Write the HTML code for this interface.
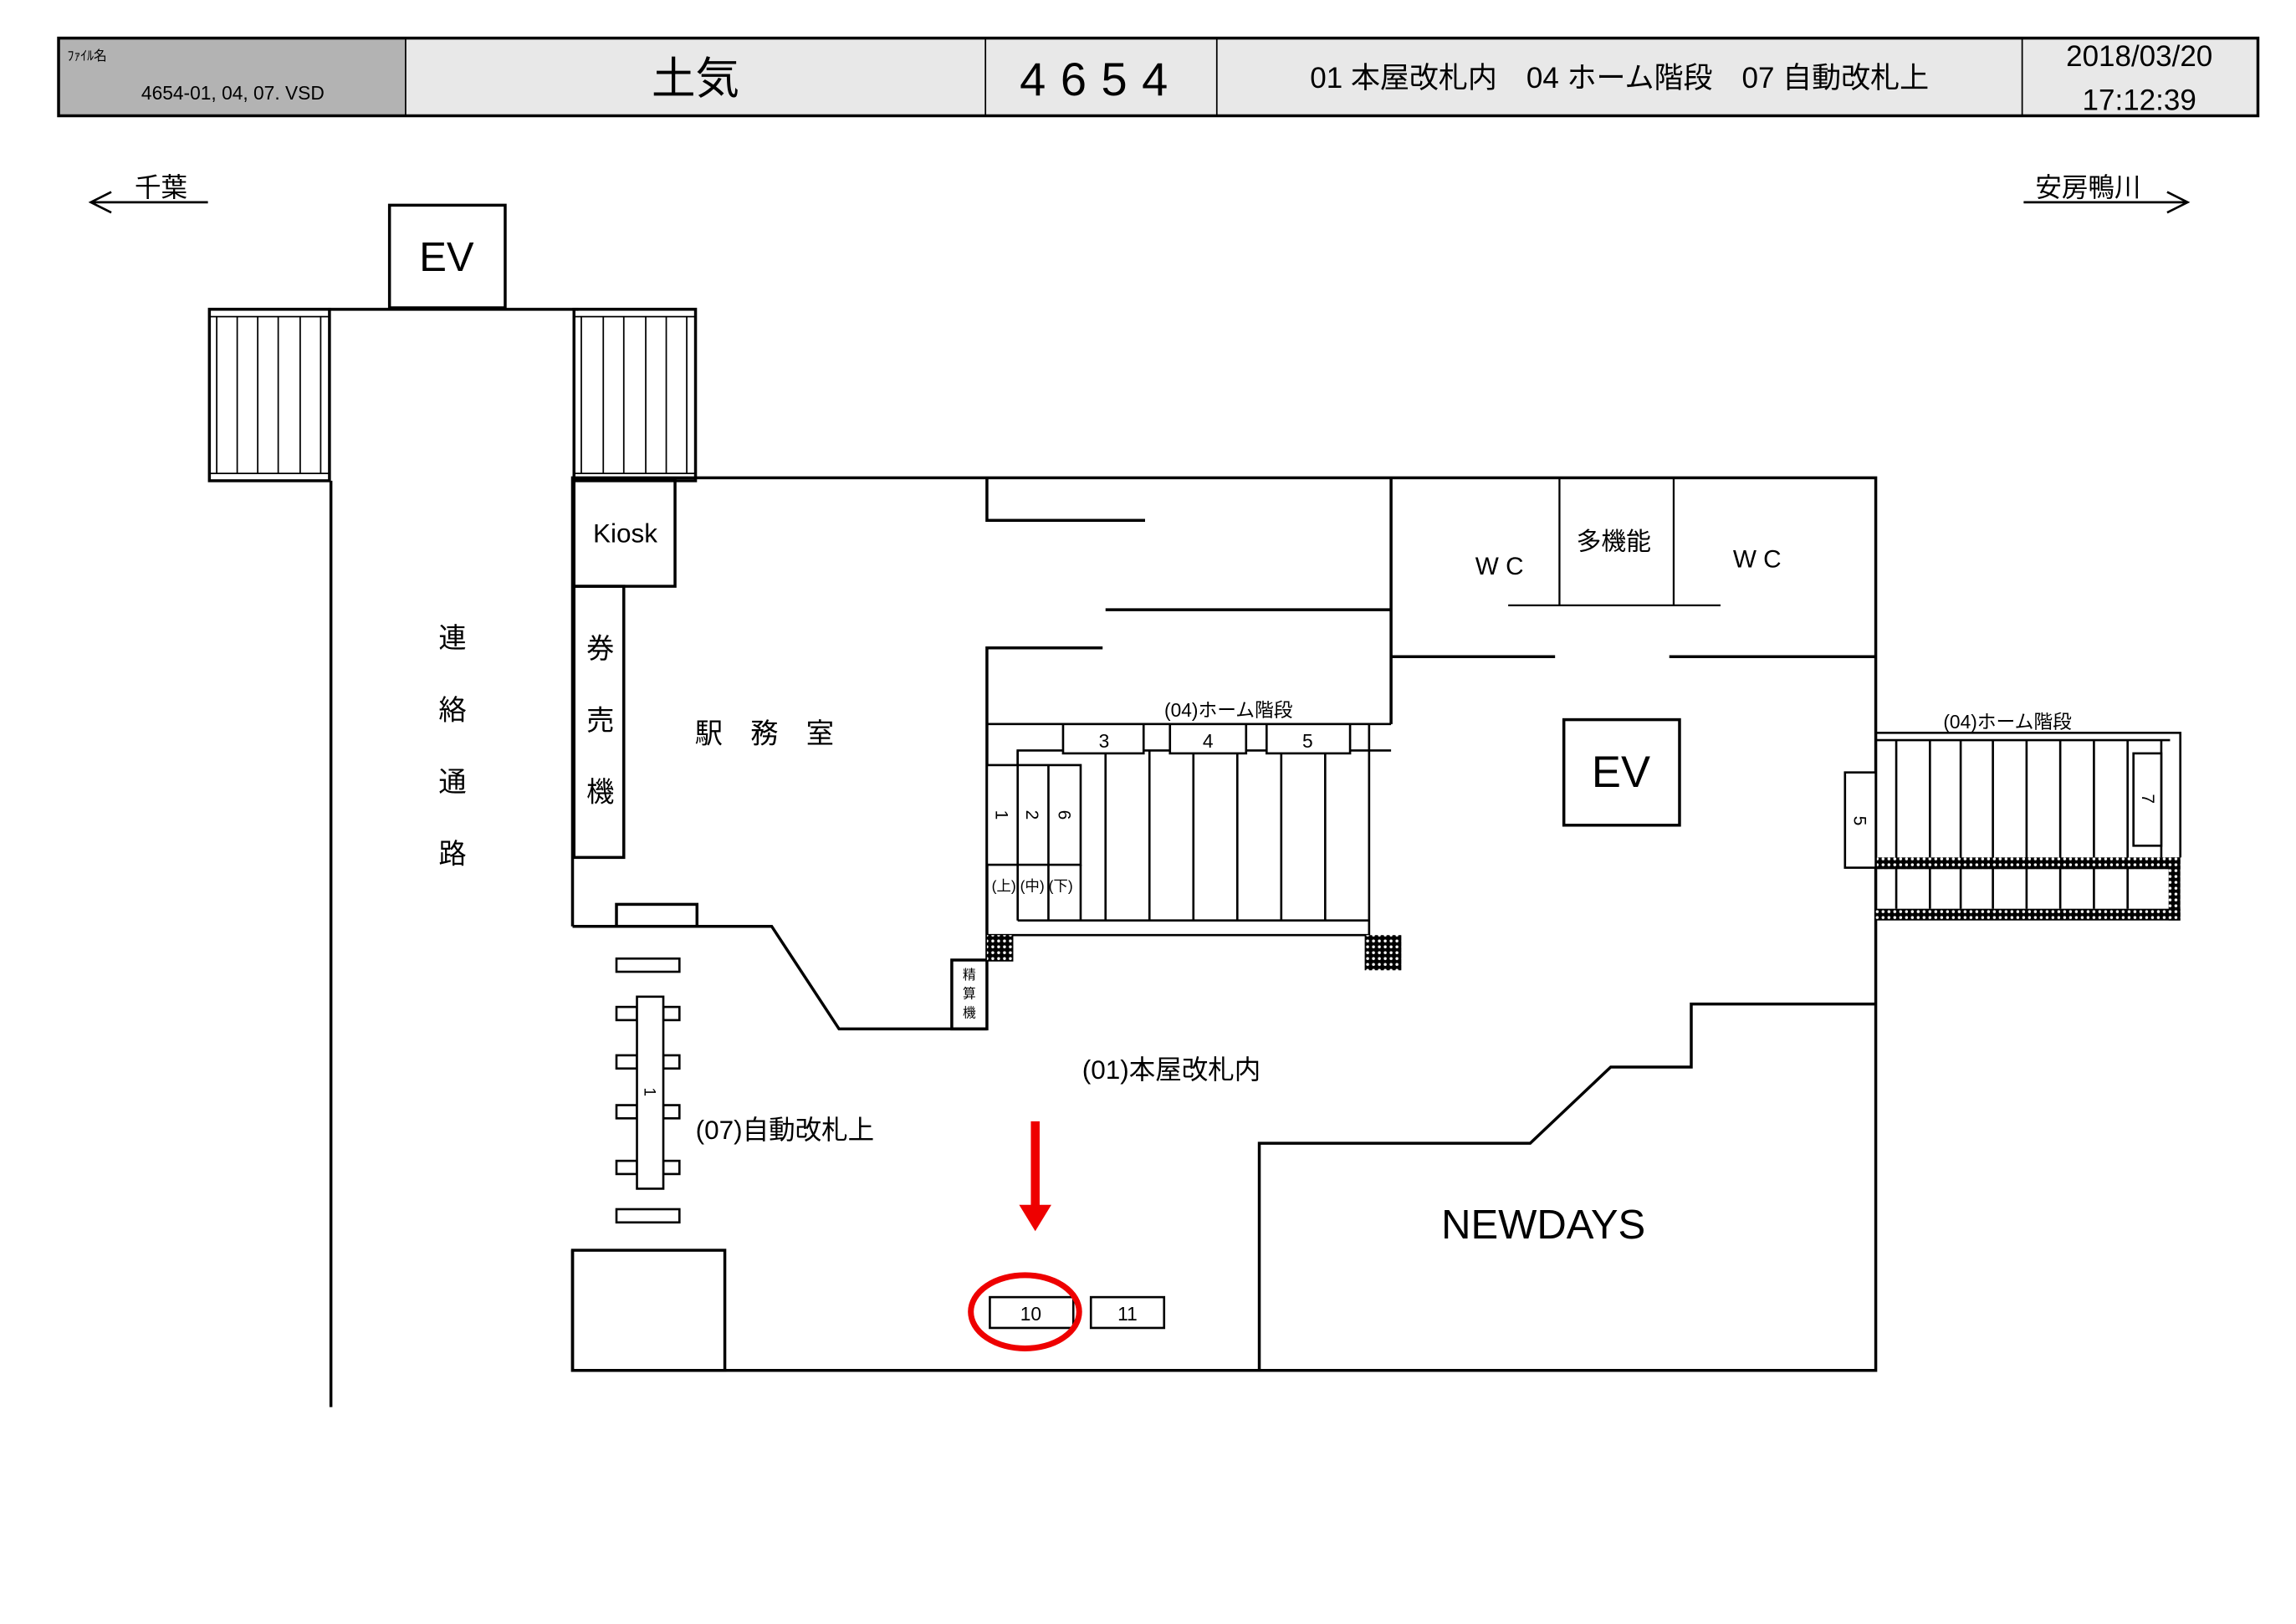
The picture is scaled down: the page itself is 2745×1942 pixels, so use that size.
<!DOCTYPE html>
<html><head><meta charset="utf-8"><style>
html,body{margin:0;padding:0;background:#fff}
svg{display:block}
text{font-family:"Liberation Sans","Noto Sans CJK JP",sans-serif;fill:#000}
</style></head><body>
<svg width="2745" height="1942" viewBox="0 0 1568 1108" preserveAspectRatio="none" xmlns="http://www.w3.org/2000/svg">
<defs>
<pattern id="dots" width="4" height="4" patternUnits="userSpaceOnUse">
<rect width="4" height="4" fill="#000"/><circle cx="2" cy="2" r="1" fill="#fff"/>
</pattern>
</defs>
<!-- header -->
<rect x="40" y="26" width="237" height="53" fill="#b3b3b3"/>
<rect x="277" y="26" width="1265" height="53" fill="#e8e8e8"/>
<g stroke="#000" fill="none">
<rect x="40" y="26" width="1502" height="53" stroke-width="2"/>
<line x1="277" y1="26" x2="277" y2="79"/><line x1="673" y1="26" x2="673" y2="79"/>
<line x1="831" y1="26" x2="831" y2="79"/><line x1="1381" y1="26" x2="1381" y2="79"/>
</g>
<text x="46" y="41" font-size="9">ﾌｧｲﾙ名</text>
<text x="159" y="68" font-size="13" text-anchor="middle">4654-01, 04, 07. VSD</text>
<text x="475" y="64" font-size="30" text-anchor="middle">土気</text>
<text x="752" y="65" font-size="32" text-anchor="middle" letter-spacing="10">4654</text>
<text x="1106" y="60" font-size="20" text-anchor="middle">01 本屋改札内　04 ホーム階段　07 自動改札上</text>
<text x="1461" y="45" font-size="20" text-anchor="middle">2018/03/20</text>
<text x="1461" y="75" font-size="20" text-anchor="middle">17:12:39</text>
<!-- direction arrows -->
<g stroke="#000" fill="none" stroke-width="1.5">
<path d="M142 138 H62 M76 131 L62 138 L76 145"/>
<path d="M1382 138 H1494 M1480 131 L1494 138 L1480 145"/>
</g>
<text x="110" y="134" font-size="18" text-anchor="middle">千葉</text>
<text x="1426" y="134" font-size="18" text-anchor="middle">安房鴨川</text>
<!-- top EV & stairs -->
<g stroke="#000" fill="none" stroke-width="2">
<rect x="266" y="140" width="79" height="70"/>
<line x1="224" y1="211" x2="395" y2="211"/>
<rect x="143" y="211" width="82" height="117"/>
<rect x="392" y="211" width="83" height="117"/>
<line x1="226" y1="328" x2="226" y2="960"/>
</g>
<g stroke="#000" stroke-width="1">
<line x1="143" y1="216" x2="225" y2="216"/><line x1="143" y1="323" x2="225" y2="323"/>
<line x1="392" y1="216" x2="475" y2="216"/><line x1="392" y1="323" x2="475" y2="323"/>
<line x1="148" y1="216" x2="148" y2="323"/><line x1="162" y1="216" x2="162" y2="323"/><line x1="176" y1="216" x2="176" y2="323"/><line x1="190" y1="216" x2="190" y2="323"/><line x1="205" y1="216" x2="205" y2="323"/><line x1="219" y1="216" x2="219" y2="323"/>
<line x1="397" y1="216" x2="397" y2="323"/><line x1="412" y1="216" x2="412" y2="323"/><line x1="426" y1="216" x2="426" y2="323"/><line x1="441" y1="216" x2="441" y2="323"/><line x1="455" y1="216" x2="455" y2="323"/><line x1="469" y1="216" x2="469" y2="323"/>
</g>
<text x="305" y="185" font-size="28" text-anchor="middle">EV</text>
<!-- main outline -->
<g stroke="#000" fill="none" stroke-width="2">
<path d="M391 632 V326 H1281 V935 H391 V853"/>
<rect x="392" y="327" width="69" height="73"/>
<rect x="392" y="400" width="34" height="185"/>
<path d="M391 632 H527 L573 702 H674"/>
<rect x="650" y="655" width="24" height="47"/>
<rect x="421" y="617" width="55" height="15"/>
<rect x="391" y="853" width="104" height="82"/>
<path d="M674 326 V355 H782"/>
<line x1="755" y1="416" x2="950" y2="416"/>
<line x1="950" y1="326" x2="950" y2="494"/>
<path d="M753 442 H674 V656"/>
<line x1="950" y1="448" x2="1062" y2="448"/>
<line x1="1140" y1="448" x2="1281" y2="448"/>
<rect x="1068" y="491" width="79" height="72"/>
<path d="M860 935 V780 H1045 L1100 728 H1155 V685 H1281"/>
</g>
<g stroke="#000" stroke-width="1.3" fill="none">
<line x1="1065" y1="326" x2="1065" y2="413"/><line x1="1143" y1="326" x2="1143" y2="413"/>
<line x1="1030" y1="413" x2="1175" y2="413"/>
</g>
<text x="427" y="370" font-size="18" text-anchor="middle">Kiosk</text>
<g font-size="19" text-anchor="middle"><text x="410" y="449">券</text><text x="410" y="498">売</text><text x="410" y="547">機</text></g>
<g font-size="19" text-anchor="middle"><text x="309" y="442">連</text><text x="309" y="491">絡</text><text x="309" y="540">通</text><text x="309" y="589">路</text></g>
<text x="522" y="507" font-size="19" text-anchor="middle">駅　務　室</text>
<g font-size="9" text-anchor="middle"><text x="662" y="668">精</text><text x="662" y="681">算</text><text x="662" y="694">機</text></g>
<text x="1024" y="392" font-size="17" text-anchor="middle">W C</text>
<text x="1102" y="375" font-size="17" text-anchor="middle">多機能</text>
<text x="1200" y="387" font-size="17" text-anchor="middle">W C</text>
<text x="1107" y="537" font-size="30" text-anchor="middle">EV</text>
<!-- center stairs -->
<g stroke="#000" fill="none" stroke-width="1.5">
<line x1="674" y1="494" x2="950" y2="494"/>
<path d="M695 522 V512 H950"/>
<line x1="695" y1="512" x2="695" y2="628"/>
<line x1="695" y1="628" x2="935" y2="628"/>
<line x1="674" y1="638" x2="935" y2="638"/>
<line x1="935" y1="494" x2="935" y2="638"/>
<line x1="716" y1="590" x2="716" y2="628"/><line x1="738" y1="590" x2="738" y2="628"/>
<line x1="755" y1="512" x2="755" y2="628"/><line x1="785" y1="512" x2="785" y2="628"/><line x1="815" y1="512" x2="815" y2="628"/><line x1="845" y1="512" x2="845" y2="628"/><line x1="875" y1="512" x2="875" y2="628"/><line x1="905" y1="512" x2="905" y2="628"/>
</g>
<g stroke="#000" fill="#fff" stroke-width="1.5">
<rect x="726" y="494" width="55" height="20"/><rect x="799" y="494" width="52" height="20"/><rect x="865" y="494" width="57" height="20"/>
<rect x="674" y="522" width="64" height="68"/>
</g>
<line x1="695" y1="522" x2="695" y2="590" stroke="#000" stroke-width="1.5"/>
<line x1="716" y1="522" x2="716" y2="590" stroke="#000" stroke-width="1.5"/>
<rect x="674" y="638" width="18" height="18" fill="url(#dots)"/>
<rect x="932" y="638" width="25" height="24" fill="url(#dots)"/>
<text x="839" y="489" font-size="13" text-anchor="middle">(04)ホーム階段</text>
<g font-size="13" text-anchor="middle"><text x="754" y="510">3</text><text x="825" y="510">4</text><text x="893" y="510">5</text></g>
<g font-size="12" text-anchor="middle">
<text transform="translate(684,556) rotate(90)" y="4">1</text>
<text transform="translate(705,556) rotate(90)" y="4">2</text>
<text transform="translate(727,556) rotate(90)" y="4">6</text>
</g>
<text x="705" y="608" font-size="10" text-anchor="middle">(上) (中) (下)</text>
<!-- right stairs -->
<g stroke="#000" fill="none" stroke-width="1.5">
<path d="M1281 500 H1489 V585"/>
<line x1="1281" y1="505" x2="1482" y2="505"/>
<line x1="1295" y1="505" x2="1295" y2="620"/><line x1="1318" y1="505" x2="1318" y2="620"/><line x1="1339" y1="505" x2="1339" y2="620"/><line x1="1361" y1="505" x2="1361" y2="620"/><line x1="1384" y1="505" x2="1384" y2="620"/><line x1="1407" y1="505" x2="1407" y2="620"/><line x1="1430" y1="505" x2="1430" y2="620"/><line x1="1453" y1="505" x2="1453" y2="620"/><line x1="1476" y1="505" x2="1476" y2="585"/>
</g>
<rect x="1281" y="585" width="208" height="8" fill="url(#dots)"/>
<rect x="1281" y="620" width="208" height="8" fill="url(#dots)"/>
<rect x="1481" y="585" width="8" height="43" fill="url(#dots)"/>
<g stroke="#000" fill="#fff" stroke-width="1.5">
<rect x="1260" y="527" width="21" height="65"/>
<rect x="1457" y="514" width="19" height="63"/>
</g>
<text x="1371" y="497" font-size="13" text-anchor="middle">(04)ホーム階段</text>
<text transform="translate(1270,560) rotate(90)" y="4" font-size="12" text-anchor="middle">5</text>
<text transform="translate(1467,545) rotate(90)" y="4" font-size="12" text-anchor="middle">7</text>
<!-- gates -->
<g stroke="#000" fill="#fff" stroke-width="1.5">
<rect x="421" y="654" width="43" height="9"/><rect x="421" y="825" width="43" height="9"/>
<rect x="421" y="687" width="14" height="9"/><rect x="453" y="687" width="11" height="9"/>
<rect x="421" y="720" width="14" height="9"/><rect x="453" y="720" width="11" height="9"/>
<rect x="421" y="754" width="14" height="9"/><rect x="453" y="754" width="11" height="9"/>
<rect x="421" y="792" width="14" height="9"/><rect x="453" y="792" width="11" height="9"/>
<rect x="435" y="680" width="18" height="131"/>
</g>
<text transform="translate(444,745) rotate(90)" y="4" font-size="11" text-anchor="middle">1</text>
<text x="536" y="777" font-size="18" text-anchor="middle">(07)自動改札上</text>
<text x="800" y="736" font-size="18" text-anchor="middle">(01)本屋改札内</text>
<text x="1054" y="845" font-size="28" text-anchor="middle">NEWDAYS</text>
<!-- target -->
<line x1="707" y1="765" x2="707" y2="825" stroke="#e00" stroke-width="6"/>
<polygon points="696,822 718,822 707,840" fill="#e00"/>
<g stroke="#000" fill="#fff" stroke-width="1.5">
<rect x="676" y="885" width="57" height="21"/><rect x="745" y="885" width="50" height="21"/>
</g>
<text x="704" y="901" font-size="13" text-anchor="middle">10</text>
<text x="770" y="901" font-size="13" text-anchor="middle">11</text>
<ellipse cx="700" cy="895" rx="37" ry="25" fill="none" stroke="#e00" stroke-width="4"/>
</svg>
</body></html>
